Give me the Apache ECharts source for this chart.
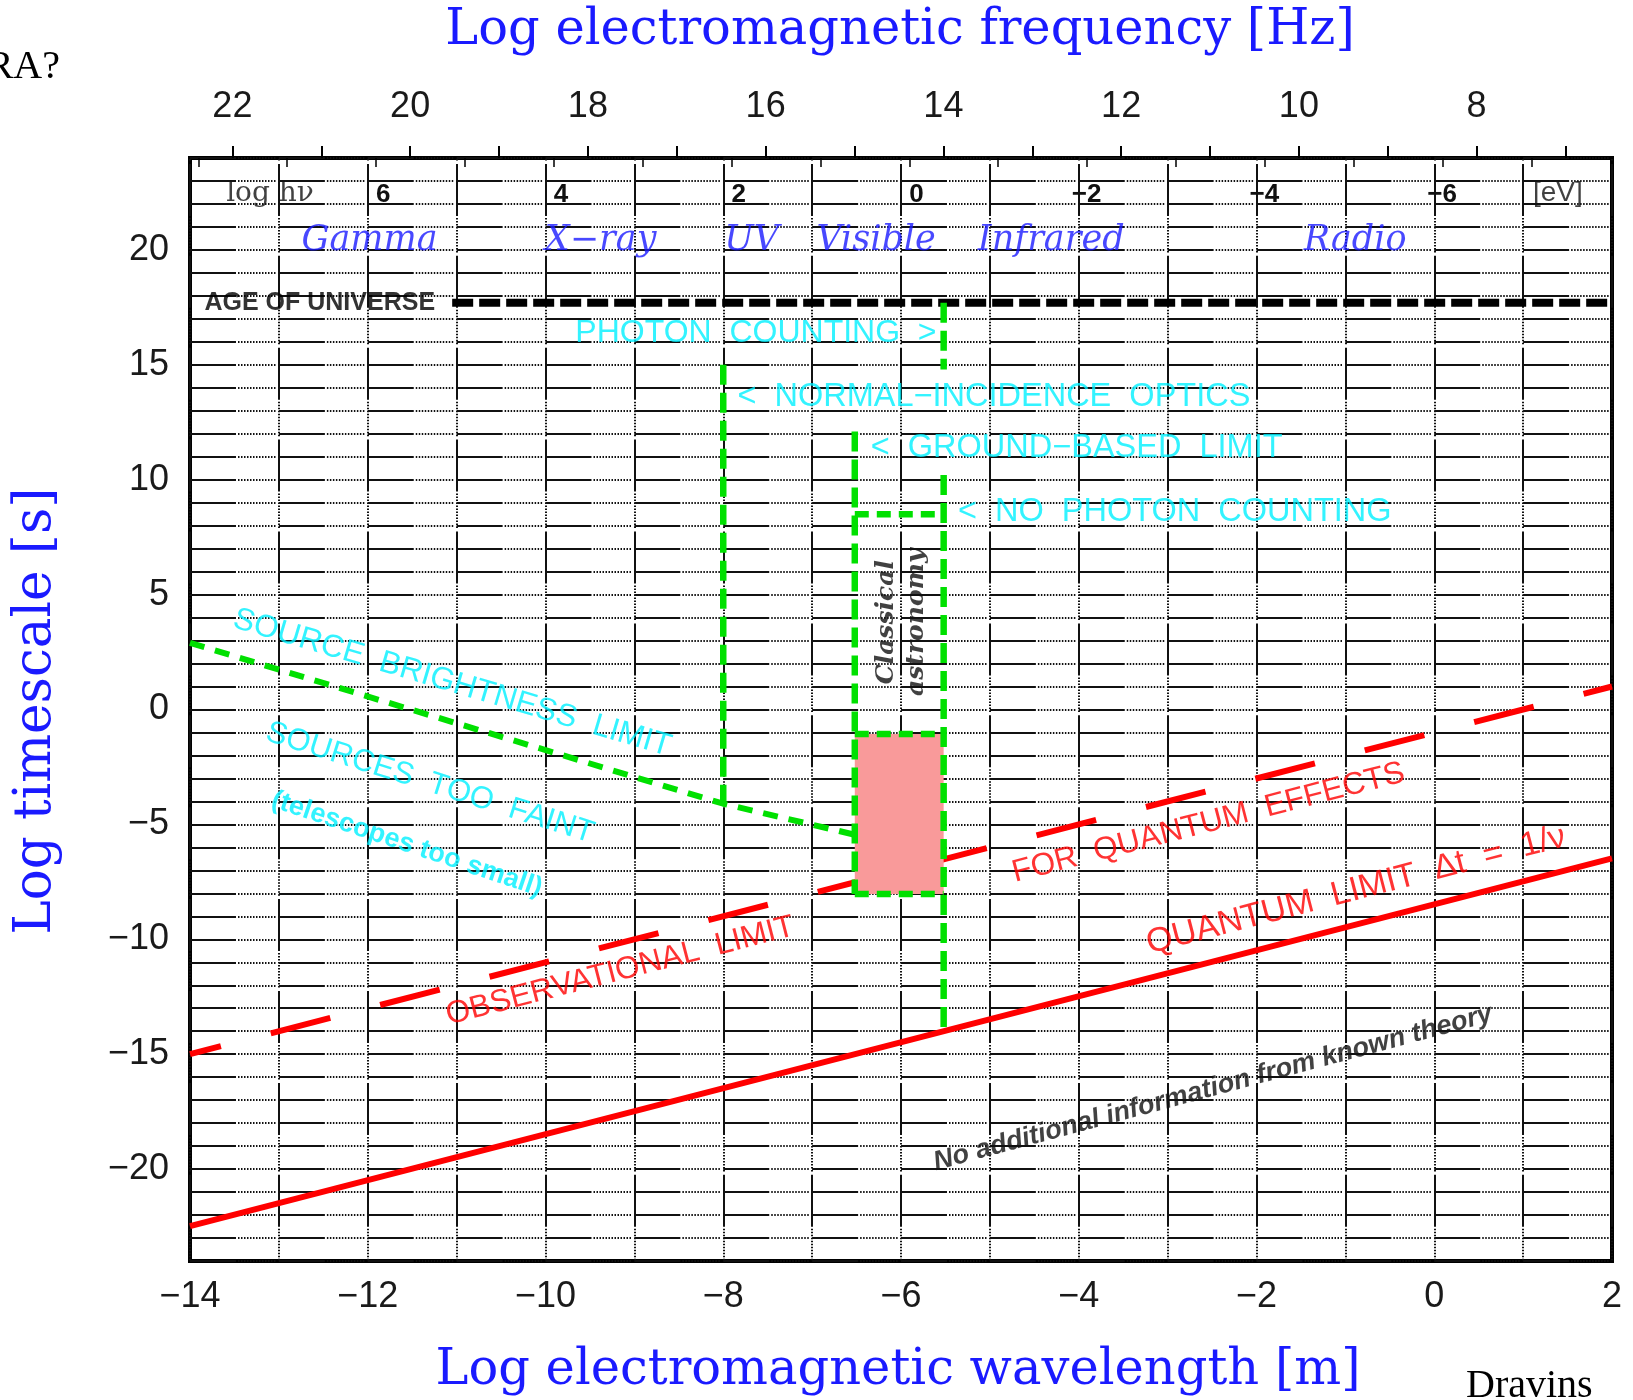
<!DOCTYPE html>
<html><head><meta charset="utf-8">
<script src="https://cdn.jsdelivr.net/npm/echarts@6/dist/echarts.min.js"></script>
<style>html,body{margin:0;padding:0;background:#fff;}#chart{width:1633px;height:1400px;}</style>
</head><body><div id="chart"></div>
<script>
// ---------------- data ----------------
const wavelengthTicks = [-14, -12, -10, -8, -6, -4, -2, 0, 2];
const timescaleTicks = [-20, -15, -10, -5, 0, 5, 10, 15, 20];
const frequencyTicks = [22, 21, 20, 19, 18, 17, 16, 15, 14, 13, 12, 11, 10, 9, 8, 7];
const frequencyLabels = [22, 20, 18, 16, 14, 12, 10, 8];
const energyTicks = [8, 7, 6, 5, 4, 3, 2, 1, 0, -1, -2, -3, -4, -5, -6, -7];
const energyLabels = [6, 4, 2, 0, -2, -4, -6];
const energyNegLabels = [-2, -4, -6];
// axis extents: log wavelength [m], log frequency [Hz], log photon energy [eV]
const wavelengthRange = [-14, 2];
const frequencyRange = [6.4768, 22.4768];
const energyRange = [-7.9067, 8.0933];
const timescaleRange = [-24, 24];

const quantumLimit = [[-14, -22.48], [2, -6.48]];
const observationalLimit = [[-14, -15.0], [2, 1.0]];
const ageOfUniverse = [[-11.05, 17.7], [2, 17.7]];
const sourceBrightnessLimit = [[-14, 2.9], [-8, -4.1], [-6.52, -5.45]];
const normalIncidenceOptics = [[-8, 15.0], [-8, -4.1]];
const photonCountingUpper = [[-5.52, 17.7], [-5.52, 14.8]];
const photonCountingLower = [[-5.52, 10.2], [-5.52, -14.0]];
const groundBasedLimit = [[-6.52, 12.1], [-6.52, -8.03]];
const noPhotonCounting = [[-6.52, 8.5], [-5.52, 8.5]];
const classicalBoxTop = [[-6.52, -1.07], [-5.52, -1.07]];
const classicalBoxBottom = [[-6.52, -8.03], [-5.52, -8.03]];
const classicalBox = [[-6.52, -1.07, -5.52, -8.03]];

const bandNames = ['Gamma', 'X\u2212ray', 'UV', 'Visible', 'Infrared', 'Radio'];
const bandCenters = [-11.98, -9.38, -7.68, -6.28, -4.31, -0.89];
const bandLevel = 20.4;

// [text, log wavelength, log timescale, kind]
const notes = [
  ['AGE OF UNIVERSE', -12.54, 17.7, 'age'],
  ['log h\u03bd', -13.1, 22.45, 'ev'],
  ['[eV]', 1.39, 22.45, 'evs'],
  ['PHOTON  COUNTING  >', -5.6, 16.38, 'cyanR'],
  ['<  NORMAL\u2212INCIDENCE  OPTICS', -7.84, 13.6, 'cyanL'],
  ['<  GROUND\u2212BASED  LIMIT', -6.34, 11.38, 'cyanL'],
  ['<  NO  PHOTON  COUNTING', -5.36, 8.58, 'cyanL'],
  ['SOURCE  BRIGHTNESS  LIMIT', -11.05, 1.15, 'cyanRot1'],
  ['SOURCES  TOO  FAINT', -11.3, -3.2, 'cyanRot2'],
  ['(telescopes too small)', -11.56, -5.86, 'cyanSmall'],
  ['OBSERVATIONAL  LIMIT', -9.16, -11.39, 'red'],
  ['FOR  QUANTUM  EFFECTS', -2.54, -4.94, 'red'],
  ['QUANTUM  LIMIT  \u0394t  =  1/\u03bd', -0.88, -7.87, 'redL'],
  ['Classical\nastronomy', -6.0, 3.8, 'classical'],
  ['No additional information from known theory', -2.49, -16.48, 'theory']
];

// ---------------- styles ----------------
const SANS = 'Liberation Sans';
const SERIF = 'DejaVu Serif';
const BLUE = '#1a1aff';
const GREEN = '#00e000';
const RED = '#ff0000';
const CYAN = '#00f0ff';
const noteStyle = {
  age: {color: '#000', fontFamily: SANS, fontWeight: 'bold', fontSize: 25},
  ev: {color: '#111', fontFamily: SERIF, fontSize: 28},
  evs: {color: '#111', fontFamily: SANS, fontSize: 28},
  cyanR: {color: CYAN, fontFamily: SANS, fontSize: 32, align: 'right'},
  cyanL: {color: CYAN, fontFamily: SANS, fontSize: 32.5, align: 'left'},
  cyanRot1: {color: CYAN, fontFamily: SANS, fontSize: 31.5, rotate: -16.5},
  cyanRot2: {color: CYAN, fontFamily: SANS, fontSize: 31, rotate: -17.5},
  cyanSmall: {color: CYAN, fontFamily: SANS, fontSize: 27, fontWeight: 'bold', rotate: -18.5},
  red: {color: RED, fontFamily: SANS, fontSize: 31.5, rotate: 14.5},
  redL: {color: RED, fontFamily: SANS, fontSize: 34, rotate: 14.5},
  classical: {color: '#111', fontFamily: SERIF, fontStyle: 'italic', fontWeight: 'bold', fontSize: 25, rotate: 90, lineHeight: 30},
  theory: {color: '#111', fontFamily: SANS, fontStyle: 'italic', fontWeight: 'bold', fontSize: 27, rotate: 15}
};

function dotted(solid, period, dot) {
  const arr = [solid, 2];
  let used = solid + 2;
  while (used + 2 * dot <= period) { arr.push(dot, dot); used += 2 * dot; }
  arr[arr.length - 1] += period - used;
  return arr;
}
const hDash = dotted(46, 88.875, 1.5);
const vDash = dotted(52, 91.9, 1.5);
const minus = v => String(v).replace('-', '\u2212');

function seg(data, color, width, dash, z, offset) {
  return {
    type: 'line', data, xAxisIndex: 0, yAxisIndex: 0, symbol: 'none', silent: true, z,
    lineStyle: {color, width, type: dash, dashOffset: offset || 0, cap: 'butt'}
  };
}

const noteData = notes.map(n => ({
  name: n[0], value: [n[1], n[2]],
  label: Object.assign({show: true, position: 'inside', align: 'center', verticalAlign: 'middle'}, noteStyle[n[3]])
}));
bandNames.forEach((b, i) => noteData.push({
  name: b, value: [bandCenters[i], bandLevel],
  label: {show: true, position: 'inside', align: 'center', verticalAlign: 'middle', color: BLUE,
          fontFamily: SERIF, fontStyle: 'italic', fontSize: 35}
}));

const tickFont = {fontFamily: SANS, fontSize: 36, color: '#1a1a1a'};
const evFont = {fontFamily: SANS, fontSize: 26, fontWeight: 'bold', color: '#111'};

const option = {
  backgroundColor: '#fff',
  animation: false,
  grid: {left: 190, top: 158, width: 1422, height: 1103, show: true, borderColor: '#000', borderWidth: 4,
         backgroundColor: 'transparent'},
  xAxis: [
    {type: 'value', position: 'bottom', min: wavelengthRange[0], max: wavelengthRange[1], interval: 1,
     axisLine: {show: false}, axisTick: {show: false},
     splitLine: {show: true, lineStyle: {color: '#111', width: 2, type: vDash, dashOffset: 86}},
     axisLabel: Object.assign({customValues: wavelengthTicks, formatter: minus, margin: 18}, tickFont)},
    {type: 'value', position: 'top', min: frequencyRange[0], max: frequencyRange[1], inverse: true,
     axisLine: {show: false}, splitLine: {show: false},
     axisTick: {show: true, customValues: frequencyTicks, length: 12, lineStyle: {color: '#000', width: 2}},
     axisLabel: Object.assign({customValues: frequencyLabels, margin: 33}, tickFont)},
    {type: 'value', position: 'top', min: energyRange[0], max: energyRange[1], inverse: true,
     axisLine: {show: false}, splitLine: {show: false},
     axisTick: {show: true, inside: true, customValues: energyTicks, length: 9, lineStyle: {color: '#000', width: 1.5}},
     axisLabel: Object.assign({inside: true, customValues: energyLabels, formatter: v => String(Math.abs(v)),
                 align: 'left', margin: 24}, evFont)},
    {type: 'value', position: 'top', min: energyRange[0], max: energyRange[1], inverse: true,
     axisLine: {show: false}, splitLine: {show: false}, axisTick: {show: false},
     axisLabel: Object.assign({inside: true, customValues: energyNegLabels, formatter: () => '\u2212',
                 align: 'right', margin: 24}, evFont)}
  ],
  yAxis: [
    {type: 'value', min: timescaleRange[0], max: timescaleRange[1], interval: 1,
     axisLine: {show: false}, axisTick: {show: false},
     splitLine: {show: true, lineStyle: {color: '#111', width: 2.2, type: hDash}},
     axisLabel: Object.assign({customValues: timescaleTicks, formatter: minus, margin: 21}, tickFont)}
  ],
  series: [
    seg(quantumLimit, RED, 6, 'solid', 2),
    seg(observationalLimit, RED, 6, [61.5, 51.5], 2, 29.6),
    seg(ageOfUniverse, '#000', 8, [21, 6], 2),
    {type: 'custom', z: 3, silent: true, xAxisIndex: 0, yAxisIndex: 0, data: classicalBox,
     encode: {x: [0, 2], y: [1, 3]},
     renderItem: (params, api) => {
       const a = api.coord([api.value(0), api.value(1)]);
       const b = api.coord([api.value(2), api.value(3)]);
       return {type: 'rect', shape: {x: Math.min(a[0], b[0]), y: Math.min(a[1], b[1]),
               width: Math.abs(b[0] - a[0]), height: Math.abs(b[1] - a[1])}, style: {fill: '#f99a9a'}};
     }},
    seg(sourceBrightnessLimit, GREEN, 6, [15, 11], 4),
    seg(normalIncidenceOptics, GREEN, 6.5, [20, 8], 4),
    seg(photonCountingUpper, GREEN, 6.5, [20, 8], 4),
    seg(photonCountingLower, GREEN, 6.5, [20, 8], 4),
    seg(groundBasedLimit, GREEN, 6.5, [20, 8], 4),
    seg(noPhotonCounting, GREEN, 6.5, [14, 8], 4),
    seg(classicalBoxTop, GREEN, 6.5, [14, 8], 4),
    seg(classicalBoxBottom, GREEN, 6.5, [14, 8], 4),
    {type: 'scatter', z: 6, silent: true, xAxisIndex: 0, yAxisIndex: 0, symbol: 'circle', symbolSize: 1,
     itemStyle: {color: 'rgba(0,0,0,0)'}, data: noteData,
     label: {show: true, position: 'inside', formatter: p => p.name}}
  ],
  graphic: [
    {type: 'text', x: 900, y: 31, z: 10, style: {text: 'Log electromagnetic frequency [Hz]', font: '49.5px "DejaVu Serif"',
      fill: BLUE, align: 'center', verticalAlign: 'middle', textAlign: 'center', textVerticalAlign: 'middle'}},
    {type: 'text', x: 898, y: 1371, z: 10, style: {text: 'Log electromagnetic wavelength [m]', font: '49.5px "DejaVu Serif"',
      fill: BLUE, align: 'center', verticalAlign: 'middle', textAlign: 'center', textVerticalAlign: 'middle'}},
    {type: 'text', x: 37, y: 711, z: 10, rotation: Math.PI / 2, style: {text: 'Log timescale [s]', font: '51.5px "DejaVu Serif"',
      fill: BLUE, align: 'center', verticalAlign: 'middle', textAlign: 'center', textVerticalAlign: 'middle'}},
    {type: 'text', x: 60, y: 67, z: 10, style: {text: 'RA?', font: '40px "Liberation Serif"', fill: '#000',
      align: 'right', verticalAlign: 'middle', textAlign: 'right', textVerticalAlign: 'middle'}},
    {type: 'text', x: 1466, y: 1386, z: 10, style: {text: 'Dravins', font: '40px "Liberation Serif"', fill: '#000',
      align: 'left', verticalAlign: 'middle', textAlign: 'left', textVerticalAlign: 'middle'}}
  ]
};

const chart = echarts.init(document.getElementById('chart'), null, {renderer: 'canvas', width: 1633, height: 1400});
chart.setOption(option);
</script>
</body></html>
